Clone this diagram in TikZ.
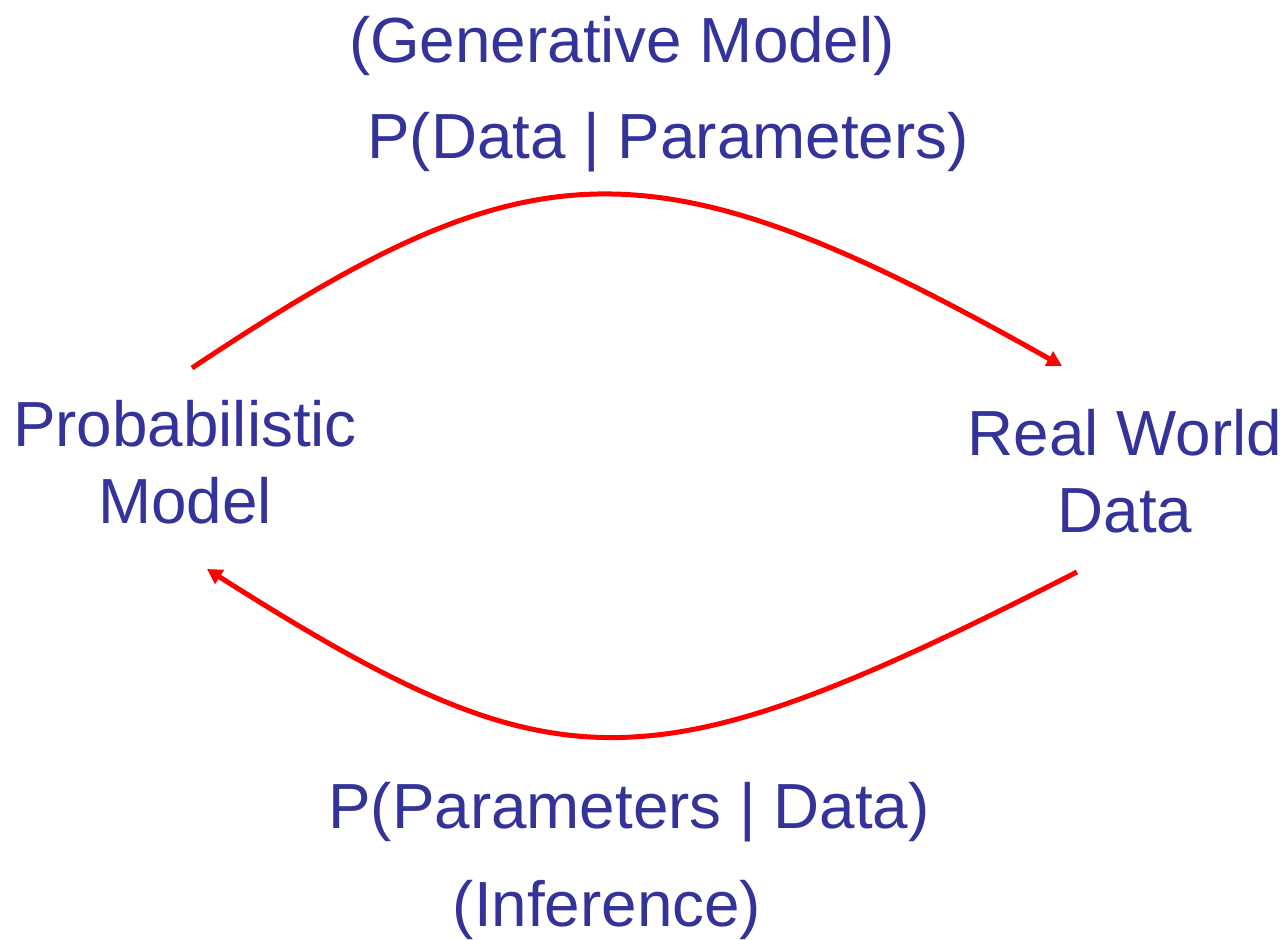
\documentclass[tikz,border=0pt]{standalone}
\usepackage{fontspec}
\setmainfont{Liberation Sans}
\usetikzlibrary{arrows.meta}
\definecolor{txtblue}{HTML}{333399}
\definecolor{arrred}{HTML}{FF0000}
\begin{document}
\begin{tikzpicture}[x=0.02cm,y=-0.02cm,
  lbl/.style={text=txtblue,font=\fontsize{36.3}{43.8}\selectfont,inner sep=0pt,align=center},
  flow/.style={draw=arrred,line width=0.1cm,-{Triangle[length=0.3cm,width=0.32cm]}}]
\useasboundingbox (0,0) rectangle (1285,940);
\node[lbl,anchor=base] (gen) at (622,62) {(Generative Model)};
\node[lbl,anchor=base] (pdp) at (668,158) {P(Data | Parameters)};
\node[lbl] (pm) at (185,462) {Probabilistic\\Model};
\node[lbl] (rw) at (1125,471) {Real World\\Data};
\node[lbl,anchor=base] (ppd) at (629,828) {P(Parameters | Data)};
\node[lbl,anchor=base] (inf) at (607,926) {(Inference)};
\coordinate (a1) at (192,368);
\coordinate (a2) at (1062,366);
\coordinate (b1) at (1077,572);
\coordinate (b2) at (207,569);
\draw[flow] (a1) .. controls (530,143) and (648,132) .. (a2);
\draw[flow] (b1) .. controls (645,792) and (559,792) .. (b2);
\end{tikzpicture}
\end{document}
